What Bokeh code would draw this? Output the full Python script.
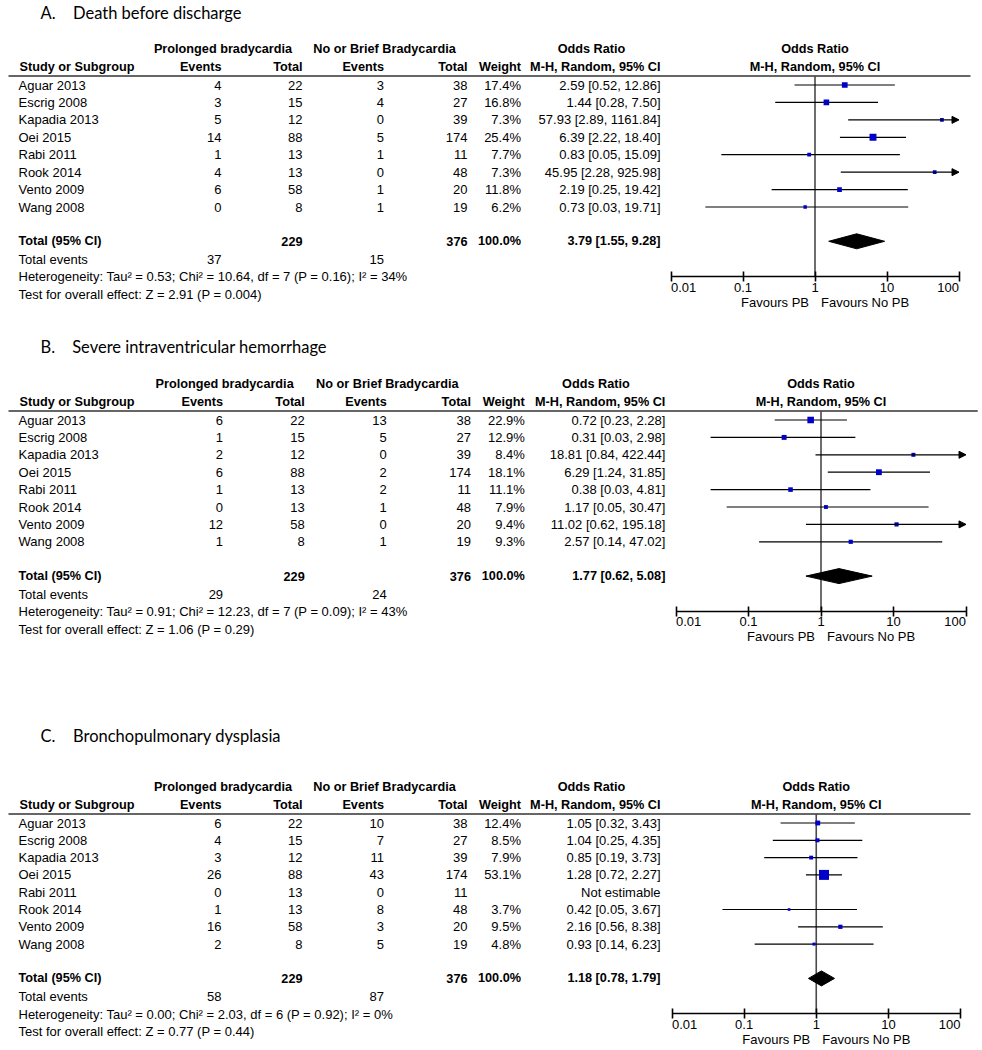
import math
from collections import defaultdict
from bokeh.plotting import figure
from bokeh.models import (Range1d, LogScale, LogAxis, FixedTicker, ColumnDataSource,
                          Arrow, NormalHead)
from bokeh.core.properties import value
from bokeh.embed import file_html
from bokeh.resources import INLINE

# ------------------------------------------------------------------ data
studies = ["Aguar 2013", "Escrig 2008", "Kapadia 2013", "Oei 2015",
           "Rabi 2011", "Rook 2014", "Vento 2009", "Wang 2008"]
pb_total = [22, 15, 12, 88, 13, 13, 58, 8]
nb_total = [38, 27, 39, 174, 11, 48, 20, 19]

a_title = "Death before discharge"
a_pb_events = [4, 3, 5, 14, 1, 4, 6, 0]
a_nb_events = [3, 4, 0, 5, 1, 0, 1, 1]
a_weight = [17.4, 16.8, 7.3, 25.4, 7.7, 7.3, 11.8, 6.2]
a_or = [2.59, 1.44, 57.93, 6.39, 0.83, 45.95, 2.19, 0.73]
a_lo = [0.52, 0.28, 2.89, 2.22, 0.05, 2.28, 0.25, 0.03]
a_hi = [12.86, 7.50, 1161.84, 18.40, 15.09, 925.98, 19.42, 19.71]
a_pooled = [3.79, 1.55, 9.28]
a_totals = [229, 376]
a_total_events = [37, 15]
a_het = "Heterogeneity: Tau\u00b2 = 0.53; Chi\u00b2 = 10.64, df = 7 (P = 0.16); I\u00b2 = 34%"
a_test = "Test for overall effect: Z = 2.91 (P = 0.004)"

b_title = "Severe intraventricular hemorrhage"
b_pb_events = [6, 1, 2, 6, 1, 0, 12, 1]
b_nb_events = [13, 5, 0, 2, 2, 1, 0, 1]
b_weight = [22.9, 12.9, 8.4, 18.1, 11.1, 7.9, 9.4, 9.3]
b_or = [0.72, 0.31, 18.81, 6.29, 0.38, 1.17, 11.02, 2.57]
b_lo = [0.23, 0.03, 0.84, 1.24, 0.03, 0.05, 0.62, 0.14]
b_hi = [2.28, 2.98, 422.44, 31.85, 4.81, 30.47, 195.18, 47.02]
b_pooled = [1.77, 0.62, 5.08]
b_totals = [229, 376]
b_total_events = [29, 24]
b_het = "Heterogeneity: Tau\u00b2 = 0.91; Chi\u00b2 = 12.23, df = 7 (P = 0.09); I\u00b2 = 43%"
b_test = "Test for overall effect: Z = 1.06 (P = 0.29)"

c_title = "Bronchopulmonary dysplasia"
c_pb_events = [6, 4, 3, 26, 0, 1, 16, 2]
c_nb_events = [10, 7, 11, 43, 0, 8, 3, 5]
c_weight = [12.4, 8.5, 7.9, 53.1, None, 3.7, 9.5, 4.8]
c_or = [1.05, 1.04, 0.85, 1.28, None, 0.42, 2.16, 0.93]
c_lo = [0.32, 0.25, 0.19, 0.72, None, 0.05, 0.56, 0.14]
c_hi = [3.43, 4.35, 3.73, 2.27, None, 3.67, 8.38, 6.23]
c_pooled = [1.18, 0.78, 1.79]
c_totals = [229, 376]
c_total_events = [58, 87]
c_het = "Heterogeneity: Tau\u00b2 = 0.00; Chi\u00b2 = 2.03, df = 6 (P = 0.92); I\u00b2 = 0%"
c_test = "Test for overall effect: Z = 0.77 (P = 0.44)"

tick_values = [0.01, 0.1, 1, 10, 100]
tick_labels = ["0.01", "0.1", "1", "10", "100"]

panels = [
    dict(letter="A.", title=a_title, pbe=a_pb_events, nbe=a_nb_events, w=a_weight,
         odds=a_or, lo=a_lo, hi=a_hi, pooled=a_pooled, totals=a_totals,
         tev=a_total_events, het=a_het, test=a_test),
    dict(letter="B.", title=b_title, pbe=b_pb_events, nbe=b_nb_events, w=b_weight,
         odds=b_or, lo=b_lo, hi=b_hi, pooled=b_pooled, totals=b_totals,
         tev=b_total_events, het=b_het, test=b_test),
    dict(letter="C.", title=c_title, pbe=c_pb_events, nbe=c_nb_events, w=c_weight,
         odds=c_or, lo=c_lo, hi=c_hi, pooled=c_pooled, totals=c_totals,
         tev=c_total_events, het=c_het, test=c_test),
]

# ------------------------------------------------------------------ layout (picture pixels)
W, H = 982, 1050
X0, Y0 = 0, 0
geo = [
    dict(key="A", dy=0, sx=1.0, ax0=670.5, ax1=958.5, title_y=12.7, title_x=72.5, step=17.43),
    dict(key="B", dy=335, sx=1.0075, ax0=675.5, ax1=965.5, title_y=346.7, title_x=71.7, step=17.4),
    dict(key="C", dy=738, sx=1.0, ax0=671.5, ax1=960.0, title_y=735.0, title_x=72.5, step=17.3),
]
COLX = dict(name=18, hname=19, ev1=221, tot1=302, ev2=383.5, tot2=467, wt=520.5,
            orr=660, hdr_pb=222.5, hdr_nb=384, hdr_or=591, rule0=8, rule1=970)
ROWY = dict(hdr1=48.5, hdr2=66.5, rule=75.5, row0=84.5, total_gap=34.3, tev=18, het=35.6,
            test=53.3, axis=35.3, ticklab=10.5, fav=25.5)

FONT = "Liberation Sans"
BLUE = "#0000C8"

p = figure(width=W, height=H, output_backend="svg", toolbar_location=None,
           x_range=Range1d(X0, X0 + W), y_range=Range1d(Y0 + H, Y0),
           x_axis_location=None, y_axis_location=None, min_border=0, title=None)
p.xgrid.visible = False
p.ygrid.visible = False
p.outline_line_color = None
p.background_fill_color = "white"
p.border_fill_color = "white"

texts = defaultdict(lambda: {"x": [], "y": [], "text": []})


def put(x, y, s, align="left", bold=False, size="13px", rng="default", font=FONT, xoff=0):
    d = texts[(align, bold, size, rng, font, xoff)]
    d["x"].append(x)
    d["y"].append(y)
    d["text"].append(s)


extra_ranges = {}
extra_scales = {}

for pan, g in zip(panels, geo):
    key, dy, sx = g["key"], g["dy"], g["sx"]

    def X(x):
        return COLX["rule0"] + (x - COLX["rule0"]) * sx

    # log range for the forest part: 0.01 -> ax0, 100 -> ax1
    ppd = (g["ax1"] - g["ax0"]) / 4.0
    start = 10 ** (-2 - (g["ax0"] - X0) / ppd)
    end = 10 ** (2 + (X0 + W - g["ax1"]) / ppd)
    extra_ranges[key] = Range1d(start, end)
    extra_scales[key] = LogScale()

    # titles
    put(40, g["title_y"], pan["letter"], size="16.5px", font="Lato")
    put(g["title_x"], g["title_y"], pan["title"], size="16.5px", font="Lato")

    y_h1 = ROWY["hdr1"] + dy
    y_h2 = ROWY["hdr2"] + dy
    y_rule = ROWY["rule"] + dy
    rows = [ROWY["row0"] + dy + i * g["step"] for i in range(len(studies))]
    y_tot = rows[-1] + ROWY["total_gap"]
    y_tev = y_tot + ROWY["tev"]
    y_het = y_tot + ROWY["het"]
    y_test = y_tot + ROWY["test"]
    y_axis = y_tot + ROWY["axis"]
    y_fav = y_axis + ROWY["fav"]

    # headers
    BS = "12.7px"
    put(X(COLX["hdr_pb"]), y_h1, "Prolonged bradycardia", "center", True, BS)
    put(X(COLX["hdr_nb"]), y_h1, "No or Brief Bradycardia", "center", True, BS)
    put(X(COLX["hdr_or"]), y_h1, "Odds Ratio", "center", True, BS)
    put(X(COLX["hname"]), y_h2, "Study or Subgroup", "left", True, BS)
    put(X(COLX["ev1"]), y_h2, "Events", "right", True, BS)
    put(X(COLX["tot1"]), y_h2, "Total", "right", True, BS)
    put(X(COLX["ev2"]), y_h2, "Events", "right", True, BS)
    put(X(COLX["tot2"]), y_h2, "Total", "right", True, BS)
    put(X(COLX["wt"]), y_h2, "Weight", "right", True, BS)
    put(X(COLX["orr"]), y_h2, "M-H, Random, 95% CI", "right", True, BS)
    put(1, y_h1, "Odds Ratio", "center", True, BS, rng=key)
    put(1, y_h2, "M-H, Random, 95% CI", "center", True, BS, rng=key)

    p.segment(x0=[COLX["rule0"]], y0=[y_rule], x1=[X(COLX["rule1"])], y1=[y_rule],
              line_color="#333333", line_width=1.6)

    # study rows
    for i, s in enumerate(studies):
        y = rows[i]
        put(X(COLX["name"]), y, s)
        put(X(COLX["ev1"]), y, str(pan["pbe"][i]), "right")
        put(X(COLX["tot1"]), y, str(pb_total[i]), "right")
        put(X(COLX["ev2"]), y, str(pan["nbe"][i]), "right")
        put(X(COLX["tot2"]), y, str(nb_total[i]), "right")
        if pan["odds"][i] is None:
            put(X(COLX["orr"]), y, "Not estimable", "right")
        else:
            put(X(COLX["wt"]), y, f"{pan['w'][i]:.1f}%", "right")
            put(X(COLX["orr"]), y,
                f"{pan['odds'][i]:.2f} [{pan['lo'][i]:.2f}, {pan['hi'][i]:.2f}]", "right")

    # totals
    put(X(COLX["name"]), y_tot, "Total (95% CI)", "left", True, BS)
    put(X(COLX["tot1"]), y_tot, str(pan["totals"][0]), "right", True, BS)
    put(X(COLX["tot2"]), y_tot, str(pan["totals"][1]), "right", True, BS)
    put(X(COLX["wt"]), y_tot, "100.0%", "right", True, BS)
    pl = pan["pooled"]
    put(X(COLX["orr"]), y_tot, f"{pl[0]:.2f} [{pl[1]:.2f}, {pl[2]:.2f}]", "right", True, BS)
    put(X(COLX["name"]), y_tev, "Total events")
    put(X(COLX["ev1"]), y_tev, str(pan["tev"][0]), "right")
    put(X(COLX["ev2"]), y_tev, str(pan["tev"][1]), "right")
    put(X(COLX["name"]), y_het, pan["het"])
    put(X(COLX["name"]), y_test, pan["test"])

    # forest: line of no effect
    p.segment(x0=[1], y0=[y_rule], x1=[1], y1=[y_axis], line_color="#4a4a4a",
              line_width=1.6, x_range_name=key)

    seg = dict(x0=[], x1=[], y=[])
    arr = dict(x0=[], x1=[], y=[])
    sq = dict(x=[], y=[], size=[])
    for i in range(len(studies)):
        if pan["odds"][i] is None:
            continue
        lo, hi = pan["lo"][i], pan["hi"][i]
        target = arr if hi > 100 else seg
        target["x0"].append(max(lo, 0.01))
        target["x1"].append(min(hi, 100))
        target["y"].append(rows[i])
        sq["x"].append(pan["odds"][i])
        sq["y"].append(rows[i])
        sq["size"].append(1.37 * math.sqrt(pan["w"][i]))

    p.segment(x0="x0", y0="y", x1="x1", y1="y", source=ColumnDataSource(seg),
              line_color="black", line_width=1.2, x_range_name=key)
    if arr["y"]:
        p.add_layout(Arrow(end=NormalHead(size=7, fill_color="black", line_color="black",
                                          line_width=1),
                           x_start="x0", y_start="y", x_end="x1", y_end="y",
                           source=ColumnDataSource(arr), line_color="black",
                           line_width=1.2, x_range_name=key))
    p.scatter(x="x", y="y", size="size", source=ColumnDataSource(sq), marker="square",
              fill_color=BLUE, line_color=None, x_range_name=key)

    # pooled diamond
    hh = 7.5
    p.patch(x=[pl[1], pl[0], pl[2], pl[0]], y=[y_tot, y_tot - hh, y_tot, y_tot + hh],
            fill_color="black", line_color="black", line_width=1, x_range_name=key)

    # axis (line + ticks); labels drawn below with RevMan-style end alignment
    ax = LogAxis(x_range_name=key, fixed_location=y_axis, bounds=(0.01, 100),
                 ticker=FixedTicker(ticks=tick_values, minor_ticks=[]),
                 major_label_overrides={v: "" for v in tick_values},
                 axis_line_color="black", axis_line_width=1.6,
                 major_tick_in=5, major_tick_out=5, major_tick_line_color="black",
                 major_tick_line_width=1.6, minor_tick_line_color=None,
                 major_label_standoff=3, major_label_text_font=FONT,
                 major_label_text_font_size="13px", major_label_text_color="black")
    p.add_layout(ax, "below")
    for j, (tv, tl) in enumerate(zip(tick_values, tick_labels)):
        al = "left" if j == 0 else ("right" if j == len(tick_values) - 1 else "center")
        put(tv, y_axis + ROWY["ticklab"], tl, al, rng=key)

    put(1, y_fav, "Favours PB", "right", rng=key, xoff=-6)
    put(1, y_fav, "Favours No PB", "left", rng=key, xoff=6)

p.extra_x_ranges = extra_ranges
p.extra_x_scales = extra_scales

for (align, bold, size, rng, font, xoff), d in texts.items():
    p.text(x="x", y="y", text="text", source=ColumnDataSource(d), text_align=align,
           text_baseline="middle", text_font=value(font), text_font_size=size,
           text_font_style="bold" if bold else "normal", text_color="black",
           x_offset=xoff, x_range_name=rng)

open("out.html", "w").write(file_html(p, INLINE))
